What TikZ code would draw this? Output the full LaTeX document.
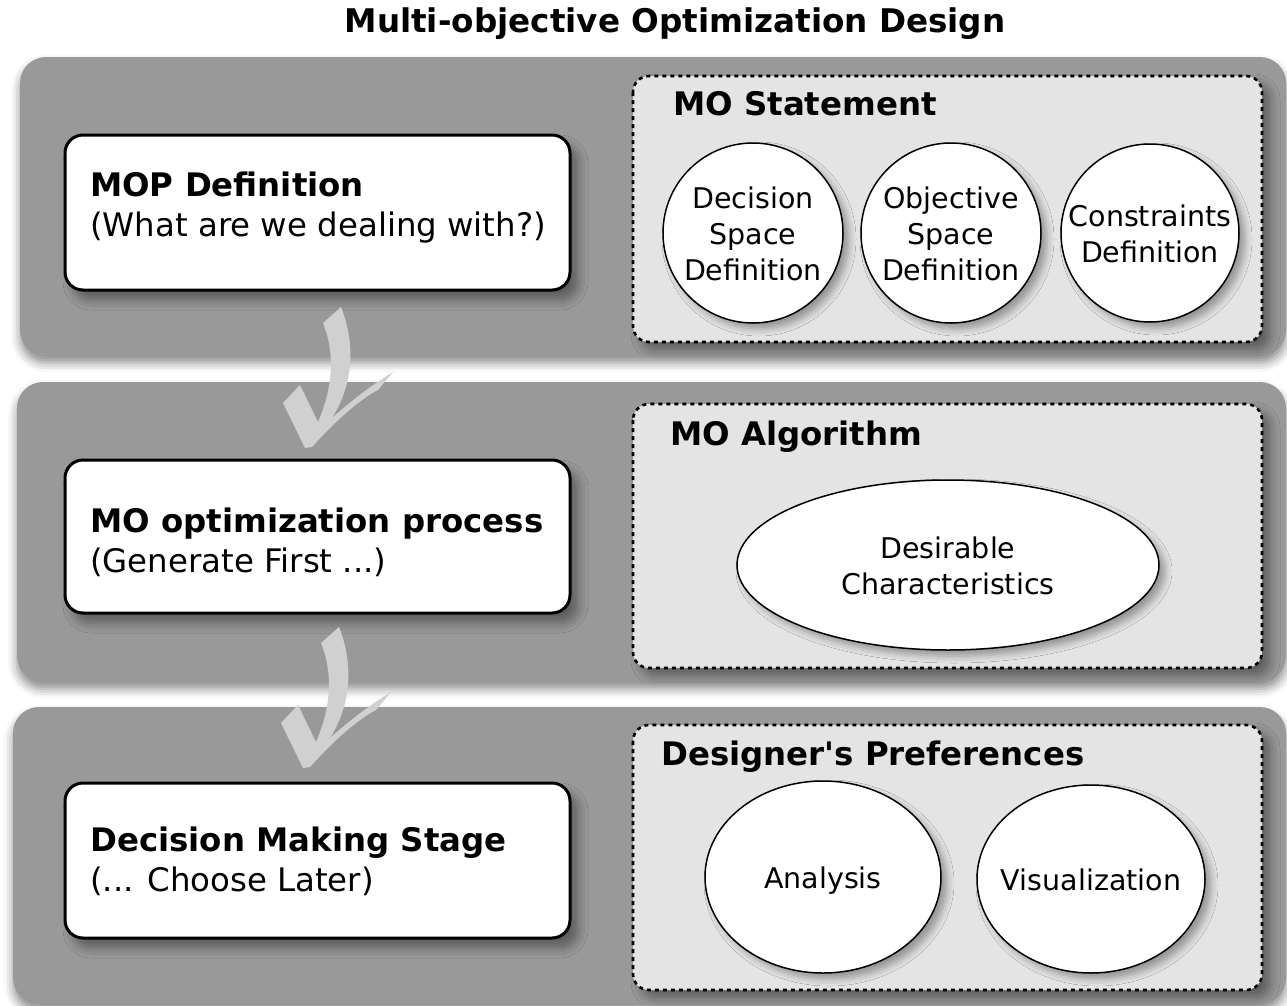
\documentclass[tikz,border=0pt]{standalone}
\usepackage{fontspec}
\setmainfont{DejaVu Sans}
\usetikzlibrary{shapes.geometric,shadows.blur}
\definecolor{bandgray}{HTML}{999999}
\definecolor{panelgray}{HTML}{E4E4E4}
\definecolor{checkgray}{HTML}{D0D0D0}
\newcommand\straightquote{{\XeTeXglyph\XeTeXcharglyph"27\relax}}
\newcommand\bubbletext[1]{\makebox[0pt]{\raisebox{-10bp}[0pt][0pt]{\begin{tabular}{@{}c@{}}#1\end{tabular}}}}
\begin{document}
\begin{tikzpicture}[x=1bp,y=-1bp,
  band/.style={fill=bandgray, rounded corners=26bp,
    blur shadow={shadow xshift=0bp, shadow yshift=-7bp, shadow blur radius=9bp, shadow opacity=45}},
  stagebox/.style={draw=black, line width=3bp, fill=white, rounded corners=18bp,
    blur shadow={shadow xshift=8bp, shadow yshift=-10bp, shadow blur radius=10bp, shadow opacity=40}},
  panel/.style={draw=black, line width=2.6bp, dash pattern=on 4bp off 4bp, fill=panelgray, rounded corners=16bp,
    blur shadow={shadow xshift=8bp, shadow yshift=-8bp, shadow blur radius=10bp, shadow opacity=40}},
  bubble/.style={draw=black, line width=1.5bp, fill=white, inner sep=0pt, align=center,
    font=\fontsize{28.5bp}{36bp}\selectfont,
    blur shadow={shadow xshift=6bp, shadow yshift=-6bp, shadow blur radius=7bp, shadow opacity=35}},
  stagetext/.style={anchor=west, align=left, inner sep=0pt, font=\fontsize{32.4bp}{40bp}\selectfont},
  paneltitle/.style={anchor=west, inner sep=0pt, font=\bfseries\fontsize{32.4bp}{38bp}\selectfont},
  checkmark/.pic={
    \fill[checkgray] (305,448) -- (283,403) -- (300,385) -- (318,422)
      .. controls (332,390) and (336,355) .. (323,323) -- (341,307)
      .. controls (356,345) and (353,385) .. (332,418)
      .. controls (352,400) and (372,385) .. (393,372) -- (378,390)
      .. controls (362,398) and (338,418) .. (312,447) -- cycle;
  }]
\useasboundingbox (0,0) rectangle (1287,1006);

% title
\node[inner sep=0pt, font=\bfseries\fontsize{32.6bp}{38bp}\selectfont] (title) at (675,24) {Multi-objective Optimization Design};

% bands
\path[band] (20,57) rectangle (1286,356);
\path[band] (17,382) rectangle (1286,682);
\path[band] (13,707) rectangle (1286,1004);

% stage boxes
\path[stagebox] (65,135) rectangle (570,290);
\path[stagebox] (65,460) rectangle (570,613);
\path[stagebox] (65,783) rectangle (570,938);

\node[stagetext] (mop) at (90,208) {\textbf{MOP Definition}\\(What are we dealing with?)};
\node[stagetext] (proc) at (90,542) {\textbf{MO optimization process}\\(Generate First ...)};
\node[stagetext] (dm) at (90,861) {\textbf{Decision Making Stage}\\(... Choose Later)};

% panels
\path[panel] (633,76) rectangle (1262,342);
\path[panel] (633,404) rectangle (1262,668);
\path[panel] (633,725) rectangle (1262,990);

\node[paneltitle] (stmt) at (673,104) {MO Statement};
\node[paneltitle] (algo) at (670,437) {MO Algorithm};
\node[paneltitle] (pref) at (661,757) {Designer\straightquote s Preferences};

% bubbles
\node[bubble, circle, minimum size=180bp] (dsd) at (753,233) {\bubbletext{Decision\\Space\\Definition}};
\node[bubble, circle, minimum size=180bp] (osd) at (951,233) {\bubbletext{Objective\\Space\\Definition}};
\node[bubble, circle, minimum size=178bp] (cd) at (1150,233) {\bubbletext{Constraints\\Definition}};
\node[bubble, ellipse, minimum width=422bp, minimum height=170bp] (desc) at (948,565) {\bubbletext{Desirable\\Characteristics}};
\node[bubble, ellipse, minimum width=236bp, minimum height=192bp] (ana) at (823,877) {\bubbletext{Analysis}};
\node[bubble, ellipse, minimum width=228bp, minimum height=188bp] (vis) at (1091,879) {\bubbletext{Visualization}};

% check arrows
\pic at (0,0) {checkmark};
\pic at (-2,320) {checkmark};
\end{tikzpicture}
\end{document}
